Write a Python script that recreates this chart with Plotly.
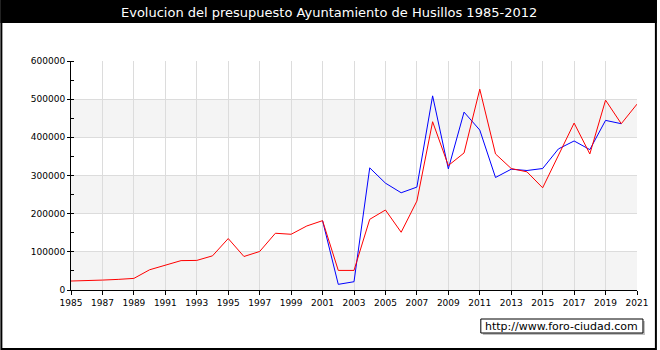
import plotly.graph_objects as go

years = list(range(1985, 2022))

# Red series (1985-2021)
red_vals = [23500, 24000, 26000, 27800, 30400, 53000, 65000, 77000, 77500, 89500,
            134800, 87800, 100900, 148700, 146000, 167800, 181700, 51300, 51300, 185200,
            209600, 151300, 233000, 440900, 326100, 359100, 526100, 356500, 318300, 309600,
            267800, 350400, 437400, 356500, 497400, 435700, 487000]

# Blue series (2001-2020); earlier years coincide with the red line
blue_years = list(range(2001, 2021))
blue_vals = [181700, 14800, 21700, 320000,
             280000, 254800, 269600, 508700, 317400, 466100, 419100, 294800, 316500, 313100,
             318300, 369600, 390500, 367800, 444400, 435700]

x_ticks = list(range(1985, 2022, 2))
y_ticks = [0, 100000, 200000, 300000, 400000, 500000, 600000]

title_text = "Evolucion del presupuesto Ayuntamiento de Husillos 1985-2012"
watermark = "http://www.foro-ciudad.com"

W, H = 660, 350
L, R, T, B = 71, 20, 61, 60
pw, ph = W - L - R, H - T - B

def px(x):
    return (x - L) / pw

def py(y):
    return (H - B - y) / ph

fig = go.Figure()
fig.add_trace(go.Scatter(x=blue_years, y=blue_vals, mode="lines",
                         line=dict(color="#0000ff", width=1), hoverinfo="skip"))
fig.add_trace(go.Scatter(x=years, y=red_vals, mode="lines",
                         line=dict(color="#ff0000", width=1), hoverinfo="skip"))

shapes = []
# alternating bands
for lo in y_ticks[0:-1:2]:
    shapes.append(dict(type="rect", xref="paper", yref="y", x0=0, x1=1, y0=lo, y1=lo + 100000,
                       fillcolor="#f4f4f4", line=dict(width=0), layer="below"))
# title bar
shapes.append(dict(type="rect", xref="paper", yref="paper", x0=px(0), x1=px(W), y0=py(23), y1=py(0),
                   fillcolor="#000000", line=dict(width=0), layer="above"))
# outer border
shapes.append(dict(type="rect", xref="paper", yref="paper", x0=px(1), x1=px(W - 1), y0=py(H - 1), y1=py(1),
                   fillcolor="rgba(0,0,0,0)", line=dict(color="#000000", width=2), layer="above"))
# watermark shadow and box
shapes.append(dict(type="rect", xref="paper", yref="paper", x0=px(485), x1=px(648), y0=py(335), y1=py(321),
                   fillcolor="#c0c0c0", line=dict(width=0), layer="above"))
shapes.append(dict(type="rect", xref="paper", yref="paper", x0=px(483), x1=px(646), y0=py(333), y1=py(319),
                   fillcolor="#ffffff", line=dict(color="#000000", width=1), layer="above"))

annotations = [
    dict(text=title_text, xref="paper", yref="paper", x=px(W / 2), y=py(12), showarrow=False,
         xanchor="center", yanchor="middle", font=dict(family="DejaVu Sans", size=13, color="#ffffff")),
    dict(text=watermark, xref="paper", yref="paper", x=px(564.5), y=py(326.5), showarrow=False,
         xanchor="center", yanchor="middle", font=dict(family="DejaVu Sans", size=11, color="#000000")),
]

fig.update_layout(
    width=W, height=H,
    margin=dict(l=L, r=R, t=T, b=B, pad=0),
    paper_bgcolor="#ffffff", plot_bgcolor="#ffffff",
    showlegend=False,
    shapes=shapes, annotations=annotations,
    font=dict(family="DejaVu Sans", size=9, color="#000000"),
)
fig.update_xaxes(range=[1985, 2021], tickvals=x_ticks, ticktext=[str(v) for v in x_ticks],
                 showgrid=True, gridcolor="#dcdcdc", gridwidth=1, zeroline=False,
                 showline=True, linecolor="#000000", linewidth=1,
                 ticks="outside", ticklen=4, tickcolor="#000000",
                 tickfont=dict(family="DejaVu Sans", size=9, color="#000000"), fixedrange=True)
fig.update_yaxes(range=[0, 600000], tickvals=y_ticks, ticktext=[str(v) for v in y_ticks],
                 showgrid=True, gridcolor="#dcdcdc", gridwidth=1, zeroline=False,
                 showline=True, linecolor="#000000", linewidth=1,
                 ticks="outside", ticklen=3, tickcolor="#000000",
                 minor=dict(dtick=50000, ticks="inside", ticklen=3, tickcolor="#000000", showgrid=False),
                 tickfont=dict(family="DejaVu Sans", size=9, color="#000000"), fixedrange=True)

fig.write_html("out.html", config={"displayModeBar": False})
